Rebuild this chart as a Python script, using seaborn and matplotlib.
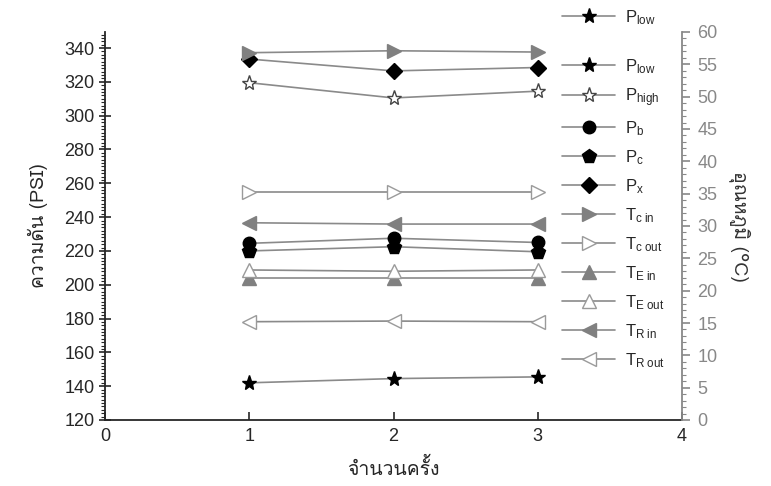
import matplotlib
matplotlib.use("Agg")
import matplotlib.pyplot as plt
import seaborn as sns
import numpy as np
from matplotlib.lines import Line2D
from matplotlib.ticker import MultipleLocator
from matplotlib import font_manager as fm
from matplotlib.ft2font import FT2Font

# ---------------- data ----------------
runs = [1, 2, 3]
p_low = [142, 144.5, 145.5]
p_high = [319.5, 310.5, 314.5]
p_b = [224.5, 227.5, 225]
p_c = [220, 222.5, 219.5]
p_x = [333.5, 326.5, 328.5]
tc_in = [56.8, 57.1, 56.9]
tc_out = [35.2, 35.2, 35.2]
te_in = [21.9, 21.9, 21.9]
te_out = [23.2, 23.0, 23.2]
tr_in = [30.5, 30.3, 30.3]
tr_out = [15.2, 15.3, 15.2]

x_ticks = [0, 1, 2, 3, 4]
left_ticks = list(range(120, 341, 20))
right_ticks = list(range(0, 61, 5))

x_label = "จำนวนครั้ง"
y_label = "ความดัน (PSI)"
y2_label = "อุณหภูมิ (°C)"

# ---------------- fonts ----------------
thai_font = None
for f in fm.fontManager.ttflist:
    try:
        if ord("ก") in FT2Font(f.fname).get_charmap():
            thai_font = f.name
            break
    except Exception:
        pass

sns.set_style("ticks")
plt.rcParams["font.family"] = ["Liberation Sans", "DejaVu Sans"]
plt.rcParams["mathtext.fontset"] = "custom"
plt.rcParams["mathtext.rm"] = "Liberation Sans"
plt.rcParams["mathtext.it"] = "Liberation Sans"
label_family = ([thai_font] if thai_font else []) + ["Liberation Sans", "DejaVu Sans"]

fig = plt.figure(figsize=(7.71, 4.86), dpi=100)
ax = fig.add_axes([105 / 771, 1 - 420 / 486, (682 - 105) / 771, (420 - 32) / 486])
ax2 = ax.twinx()

LINE = "#8a8a8a"
GFILL = "#808080"
GEDGE = "#9a9a9a"

def draw(axis, y, label, marker, face, edge, ms=8):
    sns.lineplot(x=runs, y=y, ax=axis, color=LINE, lw=1.2, marker=marker,
                 markersize=ms, markerfacecolor=face, markeredgecolor=edge,
                 markeredgewidth=1.0, label=label, legend=False)
    return Line2D([], [], color=LINE, lw=1.2, marker=marker, markersize=ms,
                  markerfacecolor=face, markeredgecolor=edge, markeredgewidth=1.0)

handles, labels = [], []
series = [
    (ax, p_low, r"$\mathregular{P_{low}}$", "*", "black", "black", 11),
    (ax, p_high, r"$\mathregular{P_{high}}$", "*", "white", "#444444", 11),
    (ax, p_b, r"$\mathregular{P_{b}}$", "o", "black", "black", 9),
    (ax, p_c, r"$\mathregular{P_{c}}$", "p", "black", "black", 10),
    (ax, p_x, r"$\mathregular{P_{x}}$", "D", "black", "black", 8),
    (ax2, tc_in, r"$\mathregular{T_{c\ in}}$", ">", GFILL, GFILL, 10),
    (ax2, tc_out, r"$\mathregular{T_{c\ out}}$", ">", "white", GEDGE, 10),
    (ax2, te_in, r"$\mathregular{T_{E\ in}}$", "^", GFILL, GFILL, 10),
    (ax2, te_out, r"$\mathregular{T_{E\ out}}$", "^", "white", GEDGE, 10),
    (ax2, tr_in, r"$\mathregular{T_{R\ in}}$", "<", GFILL, GFILL, 10),
    (ax2, tr_out, r"$\mathregular{T_{R\ out}}$", "<", "white", GEDGE, 10),
]
for axis, y, lab, m, fc, ec, ms in series:
    handles.append(draw(axis, y, lab, m, fc, ec, ms))
    labels.append(lab)

# axes limits & ticks
ax.set_xlim(0, 4)
ax.set_xticks(x_ticks)
ax.set_xticklabels([str(t) for t in x_ticks])
ax.set_ylim(120, 349.5)
ax.set_yticks(left_ticks)
ax.yaxis.set_minor_locator(MultipleLocator(2))
ax2.set_ylim(0, 60)
ax2.set_yticks(right_ticks)
ax2.yaxis.set_minor_locator(MultipleLocator(1))

ax.tick_params(axis="x", direction="in", length=6, width=1.2, labelsize=13, pad=6)
ax.tick_params(axis="y", which="major", direction="inout", length=8, width=1.2, labelsize=13)
ax.tick_params(axis="y", which="minor", direction="out", length=3, width=0.8)
ax2.tick_params(axis="y", which="major", direction="out", length=6, width=1.2,
                labelsize=13, colors="#888888", pad=5)
ax2.tick_params(axis="y", which="minor", direction="out", length=3, width=0.8,
                colors="#888888")

for s in ["top"]:
    ax.spines[s].set_visible(False)
    ax2.spines[s].set_visible(False)
ax2.spines["left"].set_visible(False)
ax2.spines["bottom"].set_visible(False)
ax.spines["right"].set_visible(False)
ax.spines["left"].set_linewidth(1.3)
ax.spines["bottom"].set_linewidth(1.3)
ax2.spines["right"].set_color("#888888")
ax2.spines["right"].set_linewidth(1.3)

ax.set_xlabel(x_label, fontsize=14, family=label_family, labelpad=9)
ax.set_ylabel(y_label, fontsize=14, family=label_family, labelpad=12)
ax2.set_ylabel(y2_label, fontsize=14, family=label_family, rotation=270,
               labelpad=24, color="#333333")

# legends
fig.legend(handles, labels, loc="upper left", bbox_to_anchor=(562 / 771, 1 - 57 / 486),
           frameon=False, fontsize=12, handlelength=3.2, handletextpad=0.6,
           labelspacing=0.62, borderpad=0, borderaxespad=0)
fig.legend([handles[0]], [labels[0]], loc="upper left",
           bbox_to_anchor=(562 / 771, 1 - 8 / 486), frameon=False, fontsize=12,
           handlelength=3.2, handletextpad=0.6, borderpad=0, borderaxespad=0)

fig.savefig("out.png", dpi=100)
